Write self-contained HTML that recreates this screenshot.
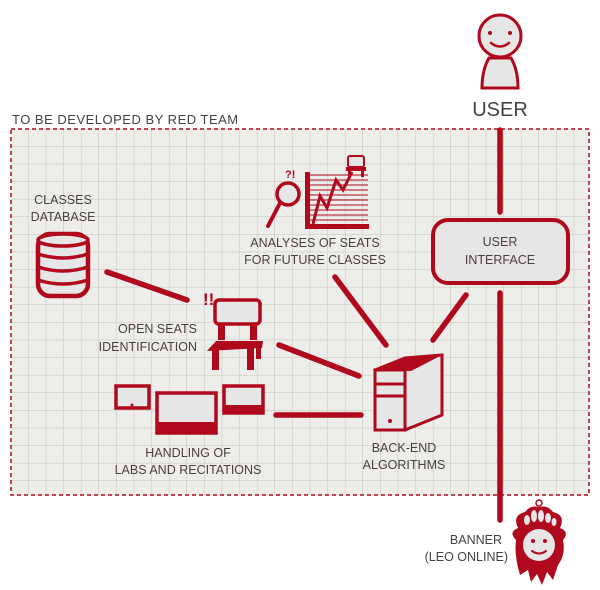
<!DOCTYPE html>
<html><head><meta charset="utf-8"><style>
html,body{margin:0;padding:0;background:#fff;}
svg{display:block;}
text{font-family:"Liberation Sans",sans-serif;fill:#4a4040;}
</style></head><body>
<svg width="600" height="590" viewBox="0 0 600 590" xmlns="http://www.w3.org/2000/svg">
<defs>
<pattern id="g" x="11" y="129" width="17.6" height="17.6" patternUnits="userSpaceOnUse">
<rect width="17.6" height="17.6" fill="#edede9"/>
<path d="M17.6 0V17.6M0 17.6H17.6" stroke="#c8c2bc" stroke-width="1"/>
</pattern>
</defs>
<rect x="11" y="129" width="578" height="366" fill="url(#g)"/>
<rect x="11" y="129" width="578" height="366" fill="none" stroke="#b0081c" stroke-width="1.5" stroke-dasharray="4,3"/>
<text x="12" y="124" font-size="13" letter-spacing="0.5">TO BE DEVELOPED BY RED TEAM</text>

<g stroke="#b0081c" stroke-linecap="round" fill="none" stroke-width="5.5">
<line x1="500" y1="130" x2="500" y2="212"/>
<line x1="500" y1="293" x2="500" y2="520"/>
<line x1="107" y1="272" x2="187" y2="300"/>
<line x1="279" y1="345" x2="359" y2="376"/>
<line x1="276" y1="415" x2="361" y2="415"/>
<line x1="335" y1="277" x2="386" y2="345"/>
<line x1="466" y1="295" x2="433" y2="340"/>
</g>

<!-- user -->
<g stroke="#b0081c" stroke-width="3" fill="#e6e6e6">
<path d="M489 58 Q482 70 482 88 L518 88 Q518 70 511 58 Z"/>
<circle cx="500" cy="36" r="21"/>
</g>
<circle cx="490" cy="33" r="2" fill="#b0081c"/><circle cx="510" cy="33" r="2" fill="#b0081c"/>
<path d="M491 43 Q500 50 509 43" stroke="#b0081c" stroke-width="2.5" fill="none" stroke-linecap="round"/>
<text x="500" y="116" font-size="20" text-anchor="middle">USER</text>

<!-- UI box -->
<rect x="433" y="220" width="135" height="63" rx="15" fill="#e6e6e6" stroke="#b0081c" stroke-width="4"/>
<text x="500" y="246" font-size="12.5" text-anchor="middle">USER</text>
<text x="500" y="264" font-size="12.5" text-anchor="middle">INTERFACE</text>

<!-- database -->
<rect x="38" y="234" width="50" height="62" rx="12" stroke="#b0081c" stroke-width="4.5" fill="#e6e6e6"/>
<ellipse cx="63" cy="240" rx="25" ry="6" fill="#e6e6e6" stroke="#b0081c" stroke-width="3.5"/>
<g stroke="#b0081c" stroke-width="3.5" fill="none">
<path d="M38 254 Q63 262 88 254"/><path d="M38 267 Q63 275 88 267"/><path d="M38 280 Q63 288 88 280"/>
</g>
<text x="63" y="204" font-size="12.5" text-anchor="middle">CLASSES</text>
<text x="63" y="221" font-size="12.5" text-anchor="middle">DATABASE</text>

<!-- chair -->
<text x="203" y="305" font-size="17" font-weight="bold" style="fill:#b0081c">!!</text>
<rect x="215" y="300" width="45" height="24" rx="4" fill="#e6e6e6" stroke="#b0081c" stroke-width="3.5"/>
<rect x="218" y="324" width="7" height="16" fill="#b0081c"/><rect x="250" y="324" width="7" height="16" fill="#b0081c"/>
<path d="M207 351 L216 341 L263 341 L262 348 Z" fill="#b0081c"/>
<rect x="212" y="348" width="7" height="22" fill="#b0081c"/><rect x="247" y="348" width="7" height="22" fill="#b0081c"/>
<rect x="256" y="341" width="5" height="18" fill="#b0081c"/>
<text x="197" y="333" font-size="12.5" text-anchor="end">OPEN SEATS</text>
<text x="197" y="351" font-size="12.5" text-anchor="end">IDENTIFICATION</text>

<!-- devices -->
<rect x="116" y="386" width="33" height="22" fill="#e6e6e6" stroke="#b0081c" stroke-width="3.5"/>
<circle cx="132" cy="405" r="1.5" fill="#b0081c"/>
<rect x="157" y="393" width="59" height="40" fill="#e6e6e6" stroke="#b0081c" stroke-width="3.5"/>
<rect x="157" y="422" width="59" height="12" fill="#b0081c"/>
<rect x="224" y="386" width="39" height="27" fill="#e6e6e6" stroke="#b0081c" stroke-width="3.5"/>
<rect x="224" y="405" width="39" height="8" fill="#b0081c"/>
<text x="188" y="457" font-size="12.5" text-anchor="middle">HANDLING OF</text>
<text x="188" y="474" font-size="12.5" text-anchor="middle">LABS AND RECITATIONS</text>

<!-- server -->
<path d="M375 370 L405 358 L442 355 L442 415 L405 430 Z" fill="#e6e6e6" stroke="#b0081c" stroke-width="3"/>
<path d="M375 370 L405 358 L442 355 L411 371 Z" fill="#b0081c"/>
<rect x="375" y="370" width="30" height="60" fill="#e6e6e6" stroke="#b0081c" stroke-width="3"/>
<line x1="375" y1="384" x2="405" y2="384" stroke="#b0081c" stroke-width="3"/>
<line x1="375" y1="396" x2="405" y2="396" stroke="#b0081c" stroke-width="3"/>
<circle cx="390" cy="421" r="2" fill="#b0081c"/>
<text x="404" y="452" font-size="12.5" text-anchor="middle">BACK-END</text>
<text x="404" y="469" font-size="12.5" text-anchor="middle">ALGORITHMS</text>

<!-- analyses -->
<text x="285" y="178" font-size="11" font-weight="bold" style="fill:#b0081c">?!</text>
<circle cx="288" cy="194" r="11" fill="#e6e6e6" stroke="#b0081c" stroke-width="3.5"/>
<line x1="280" y1="203" x2="268" y2="226" stroke="#b0081c" stroke-width="4" stroke-linecap="round"/>
<g stroke="#b0081c" stroke-width="1">
<line x1="310" y1="175" x2="368" y2="175"/><line x1="310" y1="180" x2="368" y2="180"/><line x1="310" y1="185" x2="368" y2="185"/>
<line x1="310" y1="190" x2="368" y2="190"/><line x1="310" y1="195" x2="368" y2="195"/><line x1="310" y1="200" x2="368" y2="200"/>
<line x1="310" y1="205" x2="368" y2="205"/><line x1="310" y1="210" x2="368" y2="210"/><line x1="310" y1="215" x2="368" y2="215"/>
<line x1="310" y1="220" x2="368" y2="220"/>
</g>
<rect x="305" y="172" width="5" height="56" fill="#b0081c"/>
<rect x="305" y="224" width="64" height="5" fill="#b0081c"/>
<path d="M313 224 L320 196 L327 208 L336 180 L343 190 L352 172" stroke="#b0081c" stroke-width="3" fill="none"/>
<rect x="348" y="156" width="16" height="11" rx="2" fill="#e6e6e6" stroke="#b0081c" stroke-width="2"/>
<rect x="346" y="167" width="20" height="4" fill="#b0081c"/>
<rect x="348" y="171" width="3" height="6" fill="#b0081c"/><rect x="361" y="171" width="3" height="6" fill="#b0081c"/>
<text x="315" y="247" font-size="12.5" text-anchor="middle">ANALYSES OF SEATS</text>
<text x="315" y="264" font-size="12.5" text-anchor="middle">FOR FUTURE CLASSES</text>

<!-- banner mascot -->
<circle cx="539" cy="503" r="3" fill="none" stroke="#b0081c" stroke-width="1.5"/>
<path d="M518 528 Q512 515 525 512 Q530 505 539 507 Q548 505 553 512 Q566 515 560 528 Q570 532 563 540 Q566 555 558 565 L553 580 L547 572 L542 585 L537 574 L531 582 L528 570 L520 575 Q514 555 516 540 Q508 532 518 528 Z" fill="#b0081c"/>
<g fill="#e6e6e6">
<ellipse cx="527" cy="520" rx="3" ry="5"/><ellipse cx="534" cy="516" rx="3" ry="6"/><ellipse cx="541" cy="516" rx="3" ry="6"/><ellipse cx="548" cy="518" rx="3" ry="5"/><ellipse cx="554" cy="522" rx="2.5" ry="4"/>
</g>
<circle cx="539" cy="545" r="16" fill="#e6e6e6"/>
<circle cx="533" cy="541" r="2" fill="#b0081c"/><circle cx="545" cy="541" r="2" fill="#b0081c"/>
<path d="M532 551 Q539 556 546 551" stroke="#b0081c" stroke-width="2" fill="none" stroke-linecap="round"/>
<text x="502" y="544" font-size="12.5" text-anchor="end">BANNER</text>
<text x="508" y="561" font-size="12.5" text-anchor="end">(LEO ONLINE)</text>
</svg>
</body></html>
